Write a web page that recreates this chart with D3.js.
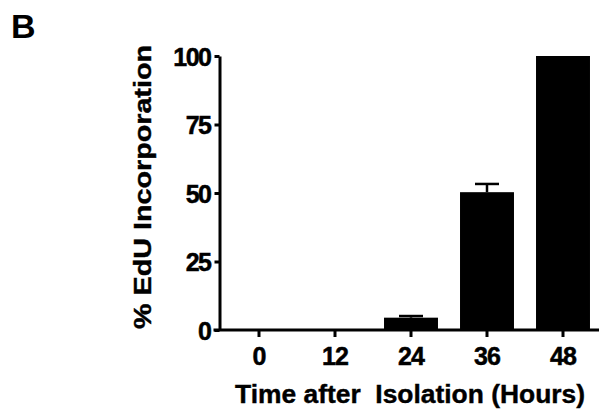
<!DOCTYPE html>
<html>
<head>
<meta charset="utf-8">
<script src="https://cdn.jsdelivr.net/npm/d3@7"></script>
<style>
  html, body { margin: 0; padding: 0; background: #fff; }
  svg { display: block; }
  text { font-family: "Liberation Sans", Arial, sans-serif; font-weight: bold; fill: #000; }
</style>
</head>
<body>
<svg id="chart" width="599" height="411"></svg>
<script>
const categories = ["0", "12", "24", "36", "48"];
const values = [0, 0, 4.5, 50.3, 100];
const errors = [0, 0, 0.6, 3.0, 0];
const yTicks = [0, 25, 50, 75, 100];
const xTitle = "Time after  Isolation (Hours)";
const yTitle = "% EdU Incorporation";
const panelLabel = "B";

const svg = d3.select("#chart");
const x = d3.scaleBand().domain(categories).range([221, 601]).paddingInner(0.29).paddingOuter(0.145);
const y = d3.scaleLinear().domain([0, 100]).range([330, 56]);
const axisX = 219.5;

// bars
svg.append("g").selectAll("rect").data(categories).join("rect")
  .attr("x", d => x(d))
  .attr("width", x.bandwidth())
  .attr("y", (d, i) => y(values[i]))
  .attr("height", (d, i) => y(0) - y(values[i]))
  .attr("fill", "#000");

// error bars
const eb = svg.append("g").attr("stroke", "#000").attr("stroke-width", 2.5);
categories.forEach((c, i) => {
  if (errors[i] <= 0) return;
  const cx = x(c) + x.bandwidth() / 2;
  const capW = 24;
  eb.append("line").attr("x1", cx).attr("x2", cx).attr("y1", y(values[i])).attr("y2", y(values[i] + errors[i]));
  eb.append("line").attr("x1", cx - capW / 2).attr("x2", cx + capW / 2).attr("y1", y(values[i] + errors[i])).attr("y2", y(values[i] + errors[i]));
});

// y axis
const gy = svg.append("g").attr("transform", `translate(${axisX},0)`)
  .call(d3.axisLeft(y).tickValues(yTicks).tickSize(5).tickSizeOuter(0).tickPadding(4));
gy.select(".domain").attr("stroke-width", 3);
gy.selectAll(".tick line").attr("stroke-width", 3);
gy.selectAll(".tick text").attr("font-size", 25).attr("letter-spacing", -1.5)
  .attr("stroke", "#000").attr("stroke-width", 0.5)
  .attr("font-family", "Liberation Sans, Arial, sans-serif").attr("font-weight", "bold").attr("dy", "0.36em");

// x axis
const gx = svg.append("g").attr("transform", `translate(0,${y(0)})`)
  .call(d3.axisBottom(x).tickSize(7).tickSizeOuter(0).tickPadding(10));
gx.select(".domain").attr("stroke-width", 3).attr("d", `M${axisX - 6},0H599`);
gx.selectAll(".tick line").attr("stroke-width", 3);
gx.selectAll(".tick text").attr("font-size", 25).attr("letter-spacing", -1)
  .attr("stroke", "#000").attr("stroke-width", 0.5)
  .attr("font-family", "Liberation Sans, Arial, sans-serif").attr("font-weight", "bold");

// titles
svg.append("text").attr("x", 410).attr("y", 403).attr("text-anchor", "middle")
  .style("white-space", "pre").attr("stroke", "#000").attr("stroke-width", 0.4)
  .attr("font-size", 25).attr("textLength", 350).attr("lengthAdjust", "spacingAndGlyphs").text(xTitle);
svg.append("text").attr("transform", "translate(151,187) rotate(-90)").attr("text-anchor", "middle")
  .attr("stroke", "#000").attr("stroke-width", 0.4)
  .attr("font-size", 23).attr("textLength", 284).attr("lengthAdjust", "spacingAndGlyphs").text(yTitle);
svg.append("text").attr("x", 11).attr("y", 38).attr("font-size", 34).text(panelLabel);
</script>
</body>
</html>
